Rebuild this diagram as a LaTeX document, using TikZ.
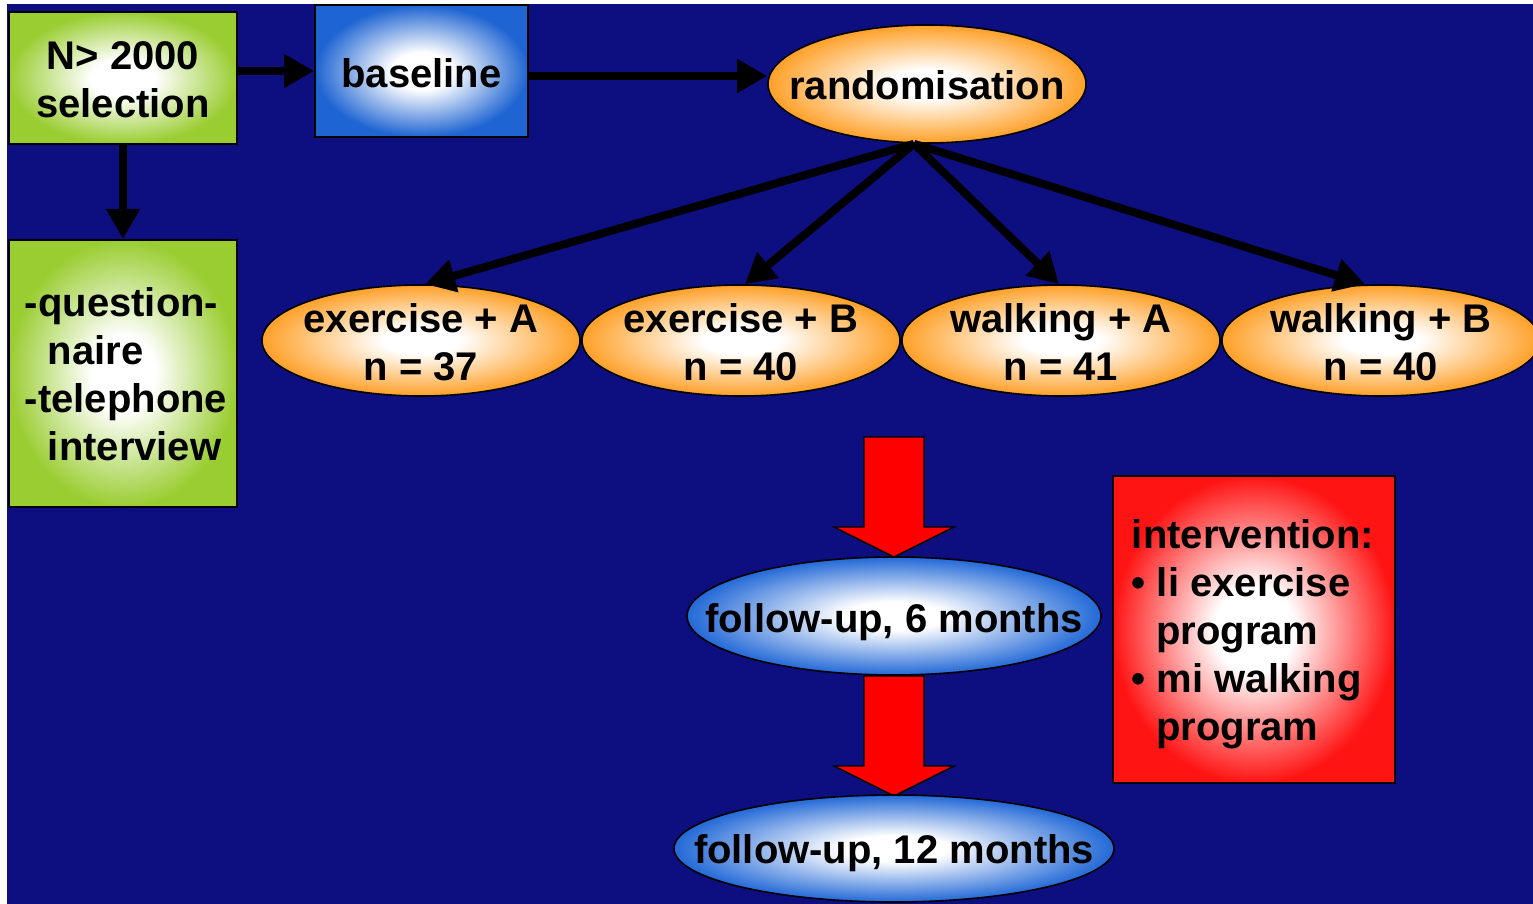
\documentclass[tikz,border=0pt]{standalone}
\usepackage{fontspec}
\setmainfont{Liberation Sans}
\usetikzlibrary{arrows.meta,shapes.geometric}
\definecolor{bgblue}{RGB}{13,15,128}
\definecolor{boxgreen}{RGB}{154,205,50}
\definecolor{boxblue}{RGB}{30,100,210}
\definecolor{ovorange}{RGB}{255,160,40}
\definecolor{ovblue}{RGB}{35,105,215}
\definecolor{boxred}{RGB}{255,20,20}
\pgfdeclareradialshading{gshade}{\pgfpoint{0bp}{0bp}}{color(0bp)=(white); color(7bp)=(white); color(25bp)=(boxgreen); color(50bp)=(boxgreen)}
\pgfdeclareradialshading{bshade}{\pgfpoint{0bp}{0bp}}{color(0bp)=(white); color(7bp)=(white); color(25bp)=(boxblue); color(50bp)=(boxblue)}
\pgfdeclareradialshading{rshade}{\pgfpoint{0bp}{0bp}}{color(0bp)=(white); color(7bp)=(white); color(25bp)=(boxred); color(50bp)=(boxred)}
\pgfdeclareradialshading{oshade}{\pgfpoint{0bp}{0bp}}{color(0bp)=(white); color(6bp)=(white); color(25bp)=(ovorange); color(50bp)=(ovorange)}
\pgfdeclareradialshading{vshade}{\pgfpoint{0bp}{0bp}}{color(0bp)=(white); color(6bp)=(white); color(25bp)=(ovblue); color(50bp)=(ovblue)}
\tikzset{
  txt/.style={font=\bfseries\fontsize{20}{24}\selectfont, text=black},
  greenbox/.style={rectangle, draw=black, line width=1pt, shading=gshade, txt, align=center},
  bluebox/.style={rectangle, draw=black, line width=1pt, shading=bshade, txt, align=center},
  redbox/.style={rectangle, draw=black, line width=1pt, shading=rshade},
  orangeoval/.style={ellipse, draw=black, line width=0.8pt, shading=oshade, inner sep=0pt},
  blueoval/.style={ellipse, draw=black, line width=0.8pt, shading=vshade, inner sep=0pt},
  lbl/.style={txt, align=center, inner sep=0pt},
  conn/.style={draw=black, line width=4pt, -{Triangle[length=15pt,width=16pt]}},
  blockarrow/.style={fill=red, draw=black, line width=0.7pt}
}
\begin{document}
\begin{tikzpicture}[x=0.5pt,y=-0.5pt]
\useasboundingbox (0,0) rectangle (1533,904);
\fill[white] (0,0) rectangle (1533,904);
\begin{scope}
\clip (0,0) rectangle (1533,904);
\fill[bgblue] (7,4) rectangle (1533,904);

% red block arrows
\draw[blockarrow] (864,437) -- (924,437) -- (924,527) -- (954,527) -- (894,557) -- (834,527) -- (864,527) -- cycle;
\draw[blockarrow] (864,676) -- (924,676) -- (924,766) -- (954,766) -- (894,796) -- (834,766) -- (864,766) -- cycle;

% boxes
\node[greenbox, minimum width=114pt, minimum height=66pt, label={[lbl,yshift=-1pt]center:N> 2000\\selection}] (sel) at (123,78) {};
\node[greenbox, minimum width=114pt, minimum height=133.5pt,
  label={[lbl,align=left,xshift=1.5pt,yshift=-0.5pt]center:-question-\\\hspace*{11.5pt}naire\\-telephone\\\hspace*{11.5pt}interview}] (qn) at (123,373.5) {};
\node[bluebox, minimum width=106.5pt, minimum height=66pt, label={[lbl,yshift=-1pt]center:baseline}] (base) at (421.5,71) {};
\node[redbox, minimum width=141pt, minimum height=153.5pt,
  label={[lbl,align=left,xshift=-0.5pt,yshift=-2.5pt]center:intervention:\\\textbullet\ li exercise\\\hspace*{12.2pt}program\\\textbullet\ mi walking\\\hspace*{12.2pt}program}] (intv) at (1254,629.5) {};

% ovals
\node[orangeoval, minimum width=159pt, minimum height=59pt, label={[lbl,yshift=-0.5pt]center:randomisation}] (rand) at (927,84) {};
\node[orangeoval, minimum width=159pt, minimum height=55.5pt, label={[lbl,yshift=-1pt]center:exercise + A\\n = 37}] (e1) at (421,340.5) {};
\node[orangeoval, minimum width=159pt, minimum height=55.5pt, label={[lbl,yshift=-1pt]center:exercise + B\\n = 40}] (e2) at (741,340.5) {};
\node[orangeoval, minimum width=159pt, minimum height=55.5pt, label={[lbl,yshift=-1pt]center:walking + A\\n = 41}] (e3) at (1061,340.5) {};
\node[orangeoval, minimum width=159pt, minimum height=55.5pt, label={[lbl,yshift=-1pt]center:walking + B\\n = 40}] (e4) at (1381,340.5) {};
\node[blueoval, minimum width=207pt, minimum height=59pt, label={[lbl,yshift=-3pt]center:follow-up, 6 months}] (fu6) at (894,616) {};
\node[blueoval, minimum width=220pt, minimum height=53.5pt, label={[lbl,yshift=-2.5pt]center:follow-up, 12 months}] (fu12) at (894,848.5) {};

% connectors
\draw[conn] (sel.east |- base.west) -- (base.west);
\draw[conn] ([yshift=-2.5pt]base.east) -- ([yshift=-2.5pt]base.east -| rand.west);
\draw[conn] (sel.south) -- (qn.north);
\draw[conn] ([xshift=-6.5pt]rand.south) -- ([xshift=2pt]e1.north);
\draw[conn] ([xshift=-6.5pt]rand.south) -- ([xshift=2pt]e2.north);
\draw[conn] ([xshift=-6.5pt]rand.south) -- ([xshift=-1pt]e3.north);
\draw[conn] ([xshift=-6.5pt]rand.south) -- ([xshift=-8pt]e4.north);
\end{scope}
\end{tikzpicture}
\end{document}
